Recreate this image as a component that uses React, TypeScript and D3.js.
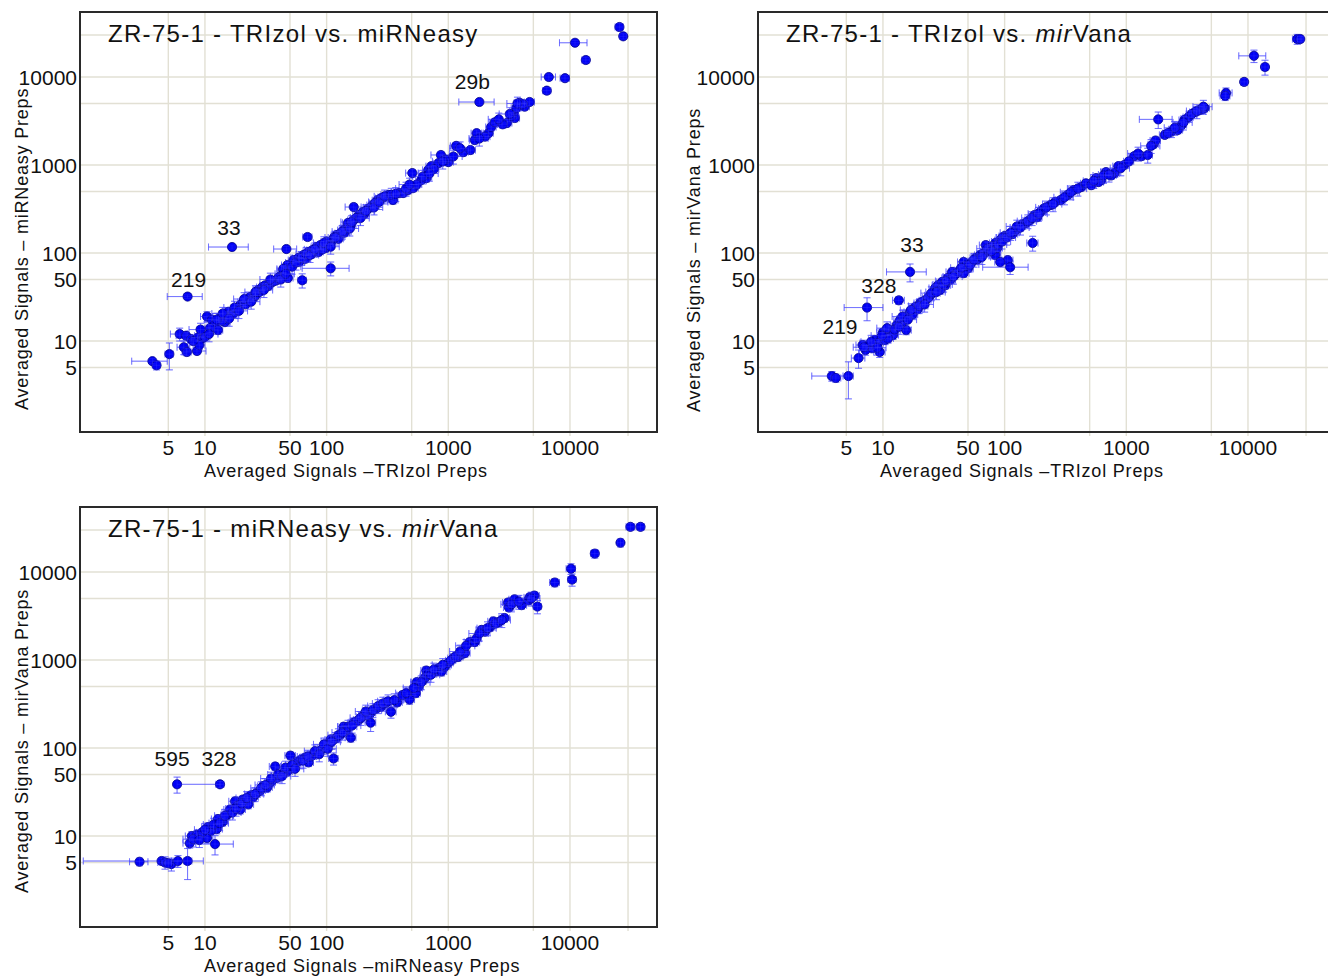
import React from 'react';
import * as d3 from 'd3';

// ---------- data ----------
const gridValues = [5, 10, 50, 100, 500, 1000, 5000, 10000, 30000];
const xTickLabels = [5, 10, 50, 100, 1000, 10000];
const yTickLabels = [5, 10, 50, 100, 1000, 10000];

// rows: [x mean, y mean, x SD, y SD]
type Row = [number, number, number, number];

const trizolVsMirneasy: Row[] = [
  [3.7, 5.9, 1.2, 0.4], [4.0, 5.3, 0.3, 0.6], [5.1, 7.1, 0.4, 2.4], [6.2, 12.0, 1.0, 2.0],
  [7.0, 11.5, 1.2, 1.0], [6.7, 8.5, 0.8, 1.5], [7.1, 7.5, 0.6, 0.7], [8.6, 7.7, 1.6, 0.6],
  [7.7, 10.5, 1.0, 1.2], [8.8, 11.0, 1.0, 1.0], [9.6, 10.8, 0.9, 0.9], [10.0, 11.2, 1.0, 1.0],
  [10.4, 19.0, 1.2, 2.5], [11.4, 17.4, 1.5, 2.0], [12.0, 15.2, 1.3, 1.8], [13.3, 18.3, 1.8, 2.0],
  [14.6, 16.4, 1.5, 1.5], [12.8, 13.3, 1.2, 1.4], [11.0, 14.0, 1.0, 1.5], [16.1, 19.8, 2.0, 2.0],
  [15.5, 21.4, 1.6, 2.0], [18.0, 22.5, 2.5, 2.0], [19.5, 25.6, 2.0, 2.5], [20.6, 27.7, 2.0, 3.0],
  [22.7, 29.2, 2.5, 2.5], [23.5, 31.6, 2.5, 3.0], [24.9, 30.8, 2.0, 2.5], [27.4, 38.0, 2.5, 3.5],
  [29.6, 41.0, 3.0, 3.5], [31.3, 43.0, 3.0, 4.0], [33.0, 42.0, 3.0, 3.0], [35.8, 46.7, 3.5, 4.0],
  [38.7, 49.0, 4.0, 4.0], [41.6, 54.6, 4.0, 5.0], [44.2, 64.0, 5.0, 6.0], [47.6, 73.0, 5.0, 6.0],
  [53.4, 83.0, 5.0, 8.0], [58.6, 88.0, 6.0, 8.0], [64.5, 95.0, 6.0, 8.0], [71.0, 103.0, 7.0, 9.0],
  [76.6, 108.0, 8.0, 10.0], [82.6, 117.0, 8.0, 10.0], [89.0, 123.0, 9.0, 12.0], [86.0, 103.0, 8.0, 10.0],
  [98.0, 114.0, 10.0, 12.0], [104.0, 126.0, 10.0, 12.0], [112.0, 140.0, 12.0, 14.0], [121.0, 160.0, 12.0, 15.0],
  [130.0, 168.0, 13.0, 15.0], [138.0, 182.0, 15.0, 18.0], [146.0, 192.0, 15.0, 18.0], [158.0, 208.0, 16.0, 20.0],
  [167.0, 237.0, 18.0, 22.0], [184.0, 270.0, 20.0, 25.0], [198.0, 292.0, 20.0, 25.0], [218.0, 316.0, 22.0, 30.0],
  [239.0, 350.0, 25.0, 30.0], [262.0, 398.0, 25.0, 35.0], [294.0, 431.0, 30.0, 40.0], [323.0, 457.0, 30.0, 40.0],
  [351.0, 400.0, 35.0, 40.0], [394.0, 480.0, 40.0, 45.0], [425.0, 480.0, 40.0, 45.0], [467.0, 520.0, 45.0, 50.0],
  [516.0, 549.0, 50.0, 50.0], [506.0, 810.0, 60.0, 80.0], [600.0, 675.0, 60.0, 60.0], [660.0, 710.0, 60.0, 70.0],
  [685.0, 880.0, 70.0, 80.0], [725.0, 970.0, 70.0, 90.0], [830.0, 1050.0, 80.0, 100.0], [870.0, 1300.0, 150.0, 120.0],
  [1000.0, 1080.0, 100.0, 100.0], [1160.0, 1650.0, 120.0, 150.0], [1330.0, 1400.0, 130.0, 130.0], [1520.0, 1480.0, 150.0, 140.0],
  [1650.0, 1920.0, 160.0, 180.0], [1710.0, 2300.0, 170.0, 200.0], [2140.0, 2300.0, 200.0, 200.0], [2250.0, 2700.0, 220.0, 250.0],
  [2410.0, 3060.0, 240.0, 280.0], [3030.0, 3000.0, 300.0, 280.0], [3450.0, 3900.0, 330.0, 350.0], [3520.0, 3420.0, 330.0, 320.0],
  [3640.0, 4470.0, 350.0, 400.0], [3860.0, 5100.0, 380.0, 450.0], [4240.0, 4600.0, 400.0, 420.0], [4660.0, 5200.0, 450.0, 450.0],
  [6450.0, 7000.0, 500.0, 600.0], [6700.0, 10000.0, 900.0, 800.0], [9100.0, 9700.0, 800.0, 800.0], [11000.0, 24500.0, 2800.0, 1500.0],
  [13500.0, 15600.0, 1000.0, 1200.0], [25500.0, 37000.0, 2000.0, 3500.0], [27400.0, 29000.0, 1800.0, 2000.0],
  [1800, 5200, 580, 300], [16.7, 117, 6.0, 6.0], [7.2, 32, 2.3, 1.5], [46.7, 111, 10, 8],
  [69.7, 152, 6, 12], [63, 49, 5, 9], [108, 67, 45, 12], [44, 66, 5, 6], [48, 52, 5, 5], [167, 333, 25, 30],
  [60, 80, 6, 8], [67, 86, 7, 8], [75, 97, 8, 9], [92, 110, 9, 10], [100, 135, 10, 12], [115, 150, 12, 14],
  [125, 145, 12, 14], [140, 170, 14, 16], [150, 220, 15, 20], [175, 250, 18, 22], [205, 280, 20, 25],
  [230, 330, 22, 30], [250, 370, 25, 32], [280, 420, 28, 38], [26, 33, 2.5, 3], [28, 36, 2.5, 3],
  [37, 48, 3.5, 4], [40, 52, 4, 5], [9.0, 9.0, 1, 1], [8.0, 10.0, 0.8, 1], [13.8, 17.0, 1.4, 1.6],
  [17.0, 20.5, 1.7, 2], [21.5, 26.0, 2, 2.5], [550, 600, 55, 55], [760, 900, 75, 85], [950, 1150, 95, 110],
  [2000, 2100, 200, 200], [2800, 2900, 270, 280], [4100, 4900, 400, 450], [3300, 3600, 320, 340],
  [9.2, 13.5, 1.8, 2.4], [10.8, 12.0, 2.0, 2.2], [12.5, 17.5, 2.3, 3.2], [14.0, 20.5, 2.6, 3.6],
  [15.8, 18.0, 2.9, 3.3], [17.5, 24.0, 3.2, 4.3], [19.0, 22.0, 3.4, 4.0], [21.0, 30.0, 3.8, 5.4],
  [24.0, 28.0, 4.3, 5.0], [26.0, 36.0, 4.7, 6.5], [30.5, 38.0, 5.5, 6.8], [34.5, 50.0, 6.2, 9.0],
  [42.0, 50.0, 7.6, 9.0], [46.0, 58.0, 8.3, 10.5], [52.0, 70.0, 9.4, 12.6], [56.0, 78.0, 10.0, 14.0],
  [62.0, 88.0, 11.0, 16.0], [68.0, 98.0, 12.0, 17.6], [73.0, 95.0, 13.0, 17.0], [80.0, 110.0, 14.4, 20.0],
  [95.0, 130.0, 17.0, 23.0], [108.0, 118.0, 19.0, 21.0], [118.0, 150.0, 21.0, 27.0], [135.0, 175.0, 24.0, 31.0],
  [155.0, 190.0, 28.0, 34.0], [160.0, 225.0, 29.0, 40.0], [190.0, 250.0, 34.0, 45.0], [210.0, 300.0, 38.0, 54.0],
  [245.0, 330.0, 44.0, 59.0], [270.0, 380.0, 49.0, 68.0], [300.0, 440.0, 54.0, 79.0], [340.0, 460.0, 61.0, 83.0],
  [370.0, 470.0, 67.0, 85.0], [450.0, 540.0, 81.0, 97.0], [480.0, 600.0, 86.0, 108.0], [620.0, 740.0, 110.0, 130.0],
  [700.0, 800.0, 126.0, 144.0], [900.0, 1100.0, 160.0, 200.0], [1100.0, 1250.0, 200.0, 225.0], [1250.0, 1550.0, 225.0, 280.0],
  [1800.0, 2000.0, 320.0, 360.0], [2600.0, 3300.0, 470.0, 590.0], [3200.0, 3800.0, 580.0, 680.0], [3700.0, 5000.0, 670.0, 900.0],
];

const trizolVsMirvana: Row[] = [
  [3.8, 4.0, 1.2, 0.5], [4.1, 3.8, 0.4, 0.4], [5.2, 4.0, 0.5, 1.8], [6.3, 6.4, 0.8, 1.5],
  [6.8, 9.0, 0.8, 1.2], [7.2, 7.9, 0.8, 1.0], [7.8, 9.0, 0.9, 1.2], [8.6, 10.3, 1.0, 1.2],
  [9.4, 7.5, 1.0, 1.0], [9.1, 9.5, 1.0, 1.0], [10.4, 10.3, 1.2, 1.2], [11.4, 13.3, 1.4, 1.5],
  [12.1, 11.7, 1.3, 1.3], [13.0, 15.2, 1.5, 1.8], [13.8, 17.3, 1.5, 2.0], [15.0, 18.3, 1.6, 2.0],
  [16.7, 21.4, 1.8, 2.2], [15.5, 13.3, 1.6, 1.5], [18.4, 24.3, 2.0, 2.5], [20.2, 27.0, 2.2, 3.0],
  [22.3, 29.0, 2.5, 3.0], [24.5, 33.0, 2.5, 3.5], [26.9, 40.0, 3.0, 4.0], [28.4, 43.0, 3.0, 4.0],
  [30.7, 47.0, 3.0, 4.5], [32.5, 43.0, 3.5, 4.0], [34.0, 52.0, 3.5, 5.0], [37.0, 61.0, 4.0, 6.0],
  [39.0, 56.5, 4.0, 6.0], [43.0, 64.0, 4.5, 6.0], [46.0, 79.0, 5.0, 8.0], [50.3, 67.5, 5.0, 7.0],
  [54.0, 79.0, 5.5, 8.0], [58.0, 88.0, 6.0, 9.0], [63.0, 95.0, 6.5, 10.0], [70.0, 103.0, 7.0, 10.0],
  [74.0, 108.0, 7.5, 11.0], [70.0, 123.0, 8.0, 12.0], [77.0, 114.0, 8.0, 12.0], [84.0, 130.0, 9.0, 13.0],
  [92.0, 140.0, 9.0, 14.0], [100.0, 156.0, 10.0, 15.0], [116.0, 164.0, 12.0, 16.0], [130.0, 192.0, 13.0, 18.0],
  [140.0, 212.0, 14.0, 20.0], [162.0, 237.0, 16.0, 22.0], [176.0, 270.0, 18.0, 25.0], [197.0, 292.0, 20.0, 28.0],
  [238.0, 350.0, 24.0, 32.0], [170.0, 130.0, 18.0, 25.0], [106.0, 83.0, 11.0, 9.0], [111.0, 69.0, 45.0, 12.0],
  [84.0, 95.0, 9.0, 10.0], [92.0, 79.0, 9.0, 8.0], [87.0, 114.0, 9.0, 11.0],
  [289, 400, 28, 38], [330, 457, 32, 42], [370, 520, 36, 48], [425, 560, 40, 52], [466, 620, 45, 55],
  [515, 590, 50, 55], [565, 710, 55, 65], [620, 670, 60, 60], [680, 830, 65, 75], [800, 810, 80, 75],
  [860, 970, 85, 90], [960, 1000, 95, 95], [1160, 1260, 110, 120], [1330, 1260, 130, 120], [1500, 1300, 140, 250],
  [1670, 1720, 160, 160], [1740, 1900, 170, 180], [2070, 2200, 200, 200], [2350, 2400, 230, 350], [2650, 2500, 250, 230],
  [2850, 2850, 280, 270], [3000, 3250, 290, 300], [3240, 3500, 310, 330], [3670, 4000, 350, 380], [3970, 4200, 380, 400],
  [4400, 4450, 420, 420], [1830, 3300, 550, 700], [6600, 6600, 800, 900], [6500, 6100, 600, 700], [9300, 8800, 600, 800],
  [13800, 13000, 900, 2500], [11200, 17400, 2800, 2800], [25400, 27000, 2200, 3500], [26900, 27000, 1500, 2000],
  [16.7, 61, 6, 14], [13.5, 29, 1.5, 3], [7.4, 24, 2.6, 7], [46, 59, 5, 6],
  [60, 85, 6, 8], [66, 98, 6.5, 10], [80, 120, 8, 12], [96, 150, 10, 14], [108, 160, 11, 16], [122, 180, 12, 18],
  [150, 220, 15, 20], [185, 255, 18, 25], [210, 320, 20, 30], [260, 380, 26, 36], [8.2, 8.3, 0.9, 0.9],
  [10.0, 12.5, 1.1, 1.3], [11.0, 10.7, 1.2, 1.2], [14.3, 16.0, 1.5, 1.7], [17.5, 20.0, 1.8, 2], [19.3, 23.0, 2, 2.5],
  [21.2, 28.0, 2.2, 3], [23.5, 31.0, 2.4, 3], [29.5, 38.0, 3, 4], [36, 50, 3.5, 5], [41, 60, 4, 6], [48, 72, 5, 7],
  [2200, 2300, 220, 220], [3450, 3800, 340, 360], [4200, 4300, 400, 410], [590, 640, 60, 60], [750, 760, 75, 75],
  [1050, 1100, 100, 100],
  [7.0, 8.5, 1.3, 1.5], [8.0, 9.8, 1.4, 1.8], [9.0, 8.4, 1.6, 1.5], [9.8, 11.5, 1.8, 2.1],
  [10.8, 14.0, 1.9, 2.5], [12.5, 13.5, 2.2, 2.4], [13.5, 14.5, 2.4, 2.6], [14.5, 19.0, 2.6, 3.4],
  [16.0, 17.5, 2.9, 3.2], [17.0, 22.5, 3.1, 4.0], [19.8, 25.0, 3.6, 4.5], [22.0, 26.0, 4.0, 4.7],
  [25.0, 35.0, 4.5, 6.3], [27.5, 36.0, 5.0, 6.5], [31.5, 44.0, 5.7, 8.0], [33.0, 48.0, 6.0, 8.6],
  [38.0, 54.0, 6.8, 9.7], [44.0, 68.0, 8.0, 12.0], [52.0, 74.0, 9.4, 13.0], [56.0, 84.0, 10.0, 15.0],
  [65.0, 90.0, 11.7, 16.0], [72.0, 112.0, 13.0, 20.0], [78.0, 105.0, 14.0, 19.0], [88.0, 125.0, 16.0, 22.0],
  [95.0, 135.0, 17.0, 24.0], [104.0, 150.0, 19.0, 27.0], [112.0, 170.0, 20.0, 31.0], [126.0, 200.0, 23.0, 36.0],
  [135.0, 195.0, 24.0, 35.0], [155.0, 230.0, 28.0, 41.0], [168.0, 250.0, 30.0, 45.0], [190.0, 280.0, 34.0, 50.0],
  [220.0, 330.0, 40.0, 59.0], [250.0, 360.0, 45.0, 65.0], [310.0, 430.0, 56.0, 77.0], [350.0, 490.0, 63.0, 88.0],
  [400.0, 540.0, 72.0, 97.0], [540.0, 660.0, 97.0, 119.0], [650.0, 760.0, 117.0, 137.0], [720.0, 780.0, 130.0, 140.0],
  [900.0, 920.0, 162.0, 166.0], [1250.0, 1350.0, 225.0, 243.0], [1600.0, 1650.0, 288.0, 297.0], [2500.0, 2650.0, 450.0, 477.0],
  [2950.0, 3050.0, 530.0, 550.0], [3800.0, 4100.0, 680.0, 740.0], [4300.0, 4600.0, 770.0, 830.0],
];

const mirneasyVsMirvana: Row[] = [
  [2.9, 5.1, 0.5, 0.5], [4.4, 5.2, 3.4, 0.4], [4.7, 5.0, 0.6, 0.8], [5.3, 4.8, 0.6, 0.8],
  [6.0, 5.2, 0.7, 0.8], [7.2, 5.2, 2.5, 2.0], [5.0, 4.9, 0.5, 0.5], [7.5, 8.3, 0.9, 1.0],
  [7.8, 10.0, 0.9, 1.2], [8.6, 10.3, 1.0, 1.2], [10.4, 9.5, 1.2, 1.2], [10.6, 12.6, 1.2, 1.5],
  [12.1, 8.1, 5.0, 2.0], [12.5, 12.0, 1.4, 1.4], [12.8, 15.6, 1.5, 1.8], [15.2, 17.3, 1.7, 2.0],
  [16.1, 20.0, 1.8, 2.2], [17.7, 24.8, 2.0, 2.8], [19.5, 20.0, 2.0, 2.2], [21.4, 24.8, 2.3, 2.8],
  [24.9, 27.6, 2.6, 3.0], [26.9, 31.0, 2.8, 3.5], [22.7, 22.9, 2.4, 2.5], [32.5, 35.7, 3.3, 4.0],
  [34.4, 40.7, 3.5, 4.5], [37.8, 61.7, 4.0, 6.0], [41.6, 47.6, 4.2, 5.0], [47.6, 54.3, 4.8, 6.0],
  [50.4, 82.0, 5.0, 8.0], [53.4, 60.0, 5.5, 6.0], [66.9, 78.0, 7.0, 8.0], [71.0, 68.6, 7.0, 7.0],
  [84.0, 89.0, 8.5, 9.0], [98.0, 104.0, 10.0, 10.0], [114.0, 76.0, 10.0, 12.0], [114.0, 125.0, 11.0, 12.0],
  [108.0, 125.0, 11.0, 12.0], [130.0, 142.0, 13.0, 14.0], [138.0, 175.0, 14.0, 17.0], [158.0, 131.0, 16.0, 14.0],
  [167.0, 194.0, 17.0, 19.0], [184.0, 210.0, 18.0, 21.0], [203.0, 240.0, 20.0, 24.0], [230.0, 250.0, 23.0, 25.0],
  [230.0, 194.0, 23.0, 40.0], [280.0, 295.0, 28.0, 30.0], [306.0, 325.0, 30.0, 32.0], [338.0, 258.0, 34.0, 40.0],
  [480, 355, 48, 40], [540, 420, 50, 45], [550, 560, 55, 55], [570, 500, 55, 50], [620, 590, 60, 60],
  [650, 640, 65, 65], [660, 760, 65, 75], [690, 700, 70, 70], [800, 740, 80, 75], [835, 810, 85, 80],
  [880, 740, 90, 80], [935, 840, 95, 85], [1000, 930, 100, 95], [1100, 1050, 110, 100], [1200, 1080, 120, 110],
  [1290, 1170, 130, 120], [1370, 1200, 140, 120], [1500, 1600, 150, 160], [1650, 1600, 160, 160], [1880, 2200, 190, 220],
  [2000, 2100, 200, 210], [2200, 2350, 220, 230], [2350, 2750, 240, 270], [2600, 2700, 260, 270], [2900, 3000, 290, 300],
  [3100, 4500, 310, 450], [3150, 3950, 310, 390], [3500, 4900, 350, 480], [4000, 4200, 400, 420], [4550, 4750, 450, 470],
  [4650, 5150, 460, 500], [5100, 5400, 500, 540], [5400, 4050, 400, 700], [7500, 7600, 700, 800], [10200, 10900, 900, 1500],
  [10400, 8200, 800, 1300], [16000, 16200, 1200, 1800], [26000, 21500, 1500, 2200], [31400, 32600, 2500, 3000],
  [38000, 32600, 3000, 3000],
  [5.9, 38.7, 7.4, 8], [13.3, 38.7, 1.0, 3.0],
  [9.5, 11.0, 1, 1.1], [11.2, 11.5, 1.1, 1.2], [14.0, 14.5, 1.4, 1.5], [18.5, 22.0, 1.9, 2.2], [20.5, 26.0, 2, 2.6],
  [23.8, 29.0, 2.4, 3], [28.5, 33.0, 2.9, 3.3], [30.0, 37.0, 3, 3.7], [36, 43, 3.6, 4.3], [39, 46, 3.9, 4.6],
  [44, 52, 4.4, 5.2], [58, 70, 6, 7], [62, 74, 6, 7.5], [76, 82, 7.5, 8], [90, 95, 9, 9.5], [105, 112, 10, 11],
  [120, 130, 12, 13], [145, 160, 14, 16], [175, 200, 17, 20], [195, 225, 19, 22], [215, 235, 21, 23],
  [255, 280, 25, 28], [380, 330, 38, 33], [420, 400, 42, 40], [1050, 990, 100, 100], [1150, 1100, 110, 110],
  [1700, 1750, 170, 170], [2450, 2600, 240, 260],
  [8.0, 9.2, 1.4, 1.7], [9.0, 9.0, 1.6, 1.6], [10.0, 11.8, 1.8, 2.1], [11.8, 13.5, 2.1, 2.4],
  [13.2, 14.0, 2.4, 2.5], [14.6, 17.0, 2.6, 3.1], [16.8, 18.5, 3.0, 3.3], [18.0, 20.5, 3.2, 3.7],
  [20.0, 23.5, 3.6, 4.2], [22.0, 27.0, 4.0, 4.9], [25.8, 30.0, 4.6, 5.4], [29.0, 35.0, 5.2, 6.3],
  [31.5, 38.0, 5.7, 6.8], [35.0, 45.0, 6.3, 8.1], [40.0, 50.0, 7.2, 9.0], [43.0, 48.0, 7.7, 8.6],
  [46.0, 60.0, 8.3, 10.8], [52.0, 64.0, 9.4, 11.5], [55.0, 58.0, 9.9, 10.4], [64.0, 72.0, 11.5, 13.0],
  [70.0, 80.0, 12.6, 14.4], [80.0, 92.0, 14.4, 16.6], [87.0, 85.0, 15.7, 15.3], [95.0, 110.0, 17.0, 19.8],
  [102.0, 98.0, 18.0, 17.6], [110.0, 118.0, 19.8, 21.2], [125.0, 140.0, 22.5, 25.2], [135.0, 150.0, 24.3, 27.0],
  [150.0, 175.0, 27.0, 31.5], [162.0, 180.0, 29.0, 32.4], [190.0, 220.0, 34.0, 39.6], [210.0, 260.0, 37.8, 46.8],
  [240.0, 270.0, 43.2, 48.6], [265.0, 300.0, 47.7, 54.0], [290.0, 320.0, 52.2, 57.6], [320.0, 340.0, 57.6, 61.2],
  [360.0, 350.0, 64.8, 63.0], [450.0, 420.0, 81.0, 75.6], [520.0, 480.0, 93.6, 86.4], [600.0, 560.0, 108.0, 100.8],
  [720.0, 680.0, 130.0, 122.0], [760.0, 780.0, 137.0, 140.0], [900.0, 880.0, 162.0, 158.0], [1250.0, 1250.0, 225.0, 225.0],
  [1400.0, 1450.0, 252.0, 261.0], [1800.0, 2000.0, 324.0, 360.0], [2100.0, 2300.0, 378.0, 414.0], [2750.0, 2850.0, 495.0, 513.0],
  [3300.0, 4300.0, 594.0, 774.0], [3800.0, 4600.0, 684.0, 828.0], [4800.0, 5000.0, 864.0, 900.0],
];

// labelled miRNAs: [label, x, y]
const labels1: [string, number, number][] = [["29b", 1800, 5200], ["33", 16.7, 117], ["219", 7.2, 32]];
const labels2: [string, number, number][] = [["33", 16.7, 61], ["328", 13.5, 29], ["219", 7.4, 24]];
const labels3: [string, number, number][] = [["595", 5.9, 38.7], ["328", 13.3, 38.7]];

// ---------- layout ----------
const FONT = "'Liberation Sans', Arial, Helvetica, sans-serif";
const X_DOMAIN: [number, number] = [0.94, 51900];
const Y_DOMAIN: [number, number] = [0.925, 54800];

type PanelCfg = {
  left: number; top: number; width: number; height: number;
  title: [string, boolean][];
  xTitle: string; yTitle: string;
  xTitleX: number; yTitleX: number; yTitleStart: number;
  rows: Row[];
  labels: [string, number, number][];
  labelOffsets: [number, number][];
};

const panels: PanelCfg[] = [
  {
    left: 80, top: 12, width: 577, height: 420,
    title: [["ZR-75-1 - TRIzol vs. miRNeasy", false]],
    xTitle: "Averaged Signals \u2013TRIzol Preps", yTitle: "Averaged Signals \u2013 miRNeasy Preps",
    xTitleX: 204, yTitleX: 28, yTitleStart: 410,
    rows: trizolVsMirneasy, labels: labels1,
    labelOffsets: [[-7, -13], [-3, -12], [1, -10]],
  },
  {
    left: 758, top: 12, width: 577, height: 420,
    title: [["ZR-75-1 - TRIzol vs. ", false], ["mir", true], ["Vana", false]],
    xTitle: "Averaged Signals \u2013TRIzol Preps", yTitle: "Averaged Signals \u2013 mirVana Preps",
    xTitleX: 880, yTitleX: 700, yTitleStart: 412,
    rows: trizolVsMirvana, labels: labels2,
    labelOffsets: [[2, -20], [-20, -7], [-27, 26]],
  },
  {
    left: 80, top: 507, width: 577, height: 420,
    title: [["ZR-75-1 - miRNeasy vs. ", false], ["mir", true], ["Vana", false]],
    xTitle: "Averaged Signals \u2013miRNeasy Preps", yTitle: "Averaged Signals \u2013 mirVana Preps",
    xTitleX: 204, yTitleX: 28, yTitleStart: 893,
    rows: mirneasyVsMirvana, labels: labels3,
    labelOffsets: [[-5, -18], [-1, -18]],
  },
];

const ERR = "#4a4aff";

function Panel({ cfg, idx }: { cfg: PanelCfg; idx: number }) {
  const { left, top, width, height } = cfg;
  const right = left + width, bottom = top + height;
  const x = d3.scaleLog().domain(X_DOMAIN).range([left, right]);
  const y = d3.scaleLog().domain(Y_DOMAIN).range([bottom, top]);
  const clipId = `clip-${idx}`;
  const cap = 3.5;

  const errBars = cfg.rows.map((r, i) => {
    const [vx, vy, sx, sy] = r;
    const px = x(vx), py = y(vy);
    const segs: JSX.Element[] = [];
    const xl = vx - sx > 0 ? x(vx - sx) : null;
    const xh = x(vx + sx);
    const yl = vy - sy > 0 ? y(vy - sy) : null;
    const yh = y(vy + sy);
    segs.push(<line key="xh" x1={xl ?? px} x2={xh} y1={py} y2={py} />);
    segs.push(<line key="xhc" x1={xh} x2={xh} y1={py - cap} y2={py + cap} />);
    if (xl !== null) segs.push(<line key="xlc" x1={xl} x2={xl} y1={py - cap} y2={py + cap} />);
    segs.push(<line key="yv" x1={px} x2={px} y1={yl ?? py} y2={yh} />);
    segs.push(<line key="yhc" x1={px - cap} x2={px + cap} y1={yh} y2={yh} />);
    if (yl !== null) segs.push(<line key="ylc" x1={px - cap} x2={px + cap} y1={yl} y2={yl} />);
    return <g key={i}>{segs}</g>;
  });

  return (
    <g>
      <defs>
        <clipPath id={clipId}>
          <rect x={left} y={top} width={width} height={height} />
        </clipPath>
      </defs>
      <rect x={left} y={top} width={width} height={height} fill="#ffffff" />
      {/* grid */}
      <g stroke="#e2e0d4" strokeWidth={1.4}>
        {gridValues.map((v) => (
          <line key={`gx${v}`} x1={x(v)} x2={x(v)} y1={top} y2={bottom + 4} />
        ))}
        {gridValues.map((v) => (
          <line key={`gy${v}`} x1={left} x2={right} y1={y(v)} y2={y(v)} />
        ))}
      </g>
      {/* title */}
      <text x={left + 28} y={top + 30} fontFamily={FONT} fontSize={24} fill="#111" style={{ letterSpacing: '1.3px' }}>
        {cfg.title.map(([t, it], k) => (
          <tspan key={k} fontStyle={it ? 'italic' : 'normal'}>{t}</tspan>
        ))}
      </text>
      {/* data */}
      <g clipPath={`url(#${clipId})`}>
        <g stroke={ERR} strokeWidth={1} strokeOpacity={0.7} fill="none">{errBars}</g>
        <g fill="#0000f5" stroke="#00008a" strokeWidth={0.8}>
          {cfg.rows.map((r, i) => (
            <circle key={i} cx={x(r[0])} cy={y(r[1])} r={4.6} />
          ))}
        </g>
        <g stroke={ERR} strokeWidth={1} strokeOpacity={0.25} fill="none">{errBars}</g>
      </g>
      {/* frame */}
      <rect x={left} y={top} width={width} height={height} fill="none" stroke="#2a2a2a" strokeWidth={2} />
      {/* point labels */}
      {cfg.labels.map(([t, vx, vy], k) => (
        <text key={t + k} x={x(vx) + cfg.labelOffsets[k][0]} y={y(vy) + cfg.labelOffsets[k][1]}
          textAnchor="middle" fontFamily={FONT} fontSize={21} fill="#111">{t}</text>
      ))}
      {/* tick labels */}
      {xTickLabels.map((v) => (
        <text key={`xt${v}`} x={x(v)} y={bottom + 23} textAnchor="middle" fontFamily={FONT} fontSize={21} fill="#111">{v}</text>
      ))}
      {yTickLabels.map((v) => (
        <text key={`yt${v}`} x={left - 3} y={y(v) + 7.5} textAnchor="end" fontFamily={FONT} fontSize={21} fill="#111">{v}</text>
      ))}
      {/* axis titles */}
      <text x={cfg.xTitleX} y={bottom + 45} fontFamily={FONT} fontSize={18} fill="#111" style={{ letterSpacing: '0.8px' }}>
        {cfg.xTitle}
      </text>
      <text transform={`translate(${cfg.yTitleX},${cfg.yTitleStart}) rotate(-90)`} fontFamily={FONT} fontSize={18}
        fill="#111" style={{ letterSpacing: '0.8px' }}>
        {cfg.yTitle}
      </text>
    </g>
  );
}

export default function App() {
  return (
    <div style={{ position: 'absolute', left: 0, top: 0, width: 1328, height: 976, overflow: 'hidden', background: '#fff' }}>
      <svg width={1328} height={976} viewBox="0 0 1328 976" style={{ display: 'block' }}>
        <rect width={1328} height={976} fill="#ffffff" />
        {panels.map((p, i) => (
          <Panel key={i} cfg={p} idx={i} />
        ))}
      </svg>
    </div>
  );
}
